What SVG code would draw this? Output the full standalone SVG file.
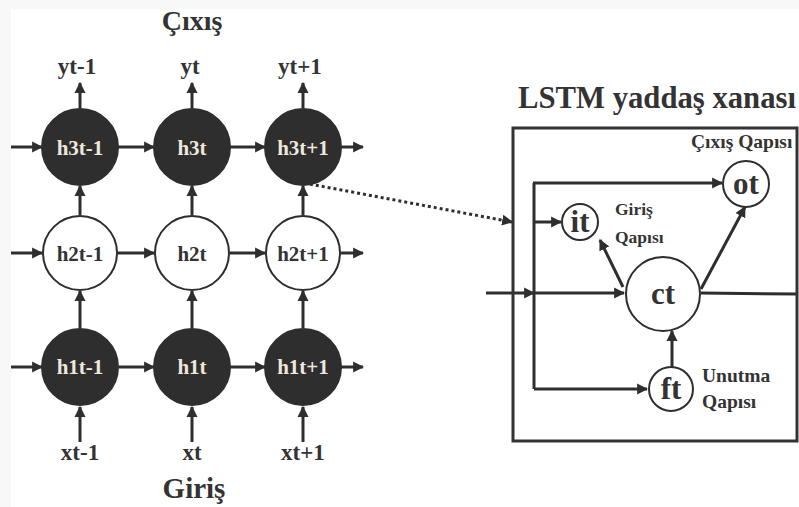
<svg xmlns="http://www.w3.org/2000/svg" width="799" height="507" viewBox="0 0 799 507">
<style>
text{font-family:"Liberation Serif","Times New Roman",serif;font-weight:bold;fill:#333}
.dk circle{fill:#2e2e2e;stroke:#2e2e2e;stroke-width:2}
.dk text{fill:#efe7de;font-size:21px;text-anchor:middle}
.lt circle{fill:#fff;stroke:#2e2e2e;stroke-width:2}
.lt text{font-size:21px;text-anchor:middle}
.g circle{fill:#fff;stroke:#2e2e2e;stroke-width:2}
.g text{font-size:31px;text-anchor:middle}
.lbl{font-size:23px;text-anchor:middle}
.sm{font-size:19.5px}
#connectors line,#connectors polyline{stroke:#2e2e2e;stroke-width:3;fill:none}
#connectors .a{marker-end:url(#ah)}
</style>
<defs>
<marker id="ah" viewBox="0 0 10 10" refX="9" refY="5" markerWidth="11" markerHeight="12" markerUnits="userSpaceOnUse" orient="auto"><path d="M0,0 L10,5 L0,10 z" fill="#2e2e2e"/></marker>
</defs>
<rect x="0" y="0" width="799" height="507" fill="#f8f8f8"/>
<rect x="11" y="9" width="788" height="498" fill="#fff"/>

<text x="192" y="30" style="font-size:28px;text-anchor:middle">Çıxış</text>
<text x="194" y="498" style="font-size:29px;text-anchor:middle">Giriş</text>
<text class="lbl" x="77" y="74">yt-1</text>
<text class="lbl" x="190" y="74">yt</text>
<text class="lbl" x="300" y="74">yt+1</text>
<text class="lbl" x="80" y="460">xt-1</text>
<text class="lbl" x="192" y="460">xt</text>
<text class="lbl" x="303" y="460">xt+1</text>

<g id="connectors">
<line class="a" x1="11" y1="147" x2="42" y2="147"/>
<line class="a" x1="117" y1="147" x2="154" y2="147"/>
<line class="a" x1="230" y1="147" x2="265" y2="147"/>
<line class="a" x1="341" y1="147" x2="363" y2="147"/>
<line class="a" x1="11" y1="253" x2="42" y2="253"/>
<line class="a" x1="117" y1="253" x2="154" y2="253"/>
<line class="a" x1="230" y1="253" x2="265" y2="253"/>
<line class="a" x1="341" y1="253" x2="363" y2="253"/>
<line class="a" x1="11" y1="367" x2="42" y2="367"/>
<line class="a" x1="119" y1="367" x2="154" y2="367"/>
<line class="a" x1="230" y1="367" x2="265" y2="367"/>
<line class="a" x1="341" y1="367" x2="363" y2="367"/>
<line class="a" x1="80" y1="108" x2="80" y2="83"/>
<line class="a" x1="192" y1="108" x2="192" y2="83"/>
<line class="a" x1="303" y1="108" x2="303" y2="83"/>
<line class="a" x1="80" y1="215" x2="80" y2="186"/>
<line class="a" x1="192" y1="215" x2="192" y2="186"/>
<line class="a" x1="303" y1="215" x2="303" y2="186"/>
<line class="a" x1="80" y1="328" x2="80" y2="291"/>
<line class="a" x1="192" y1="328" x2="192" y2="291"/>
<line class="a" x1="303" y1="328" x2="303" y2="291"/>
<line class="a" x1="80" y1="442" x2="80" y2="407"/>
<line class="a" x1="192" y1="442" x2="192" y2="407"/>
<line class="a" x1="303" y1="442" x2="303" y2="407"/>
<line class="a" x1="304" y1="183" x2="512" y2="222" style="stroke-dasharray:3 3"/>
<line class="a" x1="486" y1="293" x2="534" y2="293"/>
<line class="a" x1="534" y1="293" x2="624" y2="293"/>
<line x1="534" y1="183" x2="534" y2="389"/>
<line class="a" x1="533" y1="183" x2="722" y2="183"/>
<line class="a" x1="534" y1="222" x2="561" y2="222"/>
<polyline class="a" points="534,389 647,389"/>
<line class="a" x1="672" y1="367" x2="672" y2="331"/>
<line class="a" x1="623" y1="287" x2="600" y2="240"/>
<line class="a" x1="701" y1="289" x2="745" y2="207"/>
<line x1="701" y1="293" x2="797" y2="294"/>
</g>

<g id="h3t-1" class="dk"><circle cx="80" cy="147" r="38"/><text x="80" y="155">h3t-1</text></g>
<g id="h3t" class="dk"><circle cx="192" cy="147" r="38"/><text x="192" y="155">h3t</text></g>
<g id="h3t+1" class="dk"><circle cx="303" cy="147" r="38"/><text x="303" y="155">h3t+1</text></g>
<g id="h2t-1" class="lt"><circle cx="80" cy="253" r="37"/><text x="80" y="261">h2t-1</text></g>
<g id="h2t" class="lt"><circle cx="192" cy="253" r="37"/><text x="192" y="261">h2t</text></g>
<g id="h2t+1" class="lt"><circle cx="303" cy="253" r="37"/><text x="303" y="261">h2t+1</text></g>
<g id="h1t-1" class="dk"><circle cx="80" cy="367" r="38"/><text x="80" y="374">h1t-1</text></g>
<g id="h1t" class="dk"><circle cx="192" cy="367" r="38"/><text x="192" y="374">h1t</text></g>
<g id="h1t+1" class="dk"><circle cx="303" cy="367" r="38"/><text x="303" y="374">h1t+1</text></g>

<g id="lstm">
<text x="518" y="108" style="font-size:30.7px">LSTM yaddaş xanası</text>
<rect x="513" y="128" width="284" height="313" fill="none" stroke="#333" stroke-width="3"/>
<text class="sm" x="691" y="148">Çıxış Qapısı</text>
<text x="615" y="215" style="font-size:17.5px">Giriş</text>
<text x="615" y="243" style="font-size:17.5px">Qapısı</text>
<text class="sm" x="702" y="382">Unutma</text>
<text class="sm" x="702" y="408">Qapısı</text>
</g>
<g id="ot" class="g"><circle cx="746" cy="184" r="23"/><text x="746" y="194">ot</text></g>
<g id="it" class="g"><circle cx="580" cy="222" r="18"/><text x="580" y="232">it</text></g>
<g id="ct" class="g"><circle cx="663" cy="294" r="37"/><text x="663" y="304">ct</text></g>
<g id="ft" class="g"><circle cx="671" cy="389" r="22"/><text x="671" y="399">ft</text></g>
</svg>
